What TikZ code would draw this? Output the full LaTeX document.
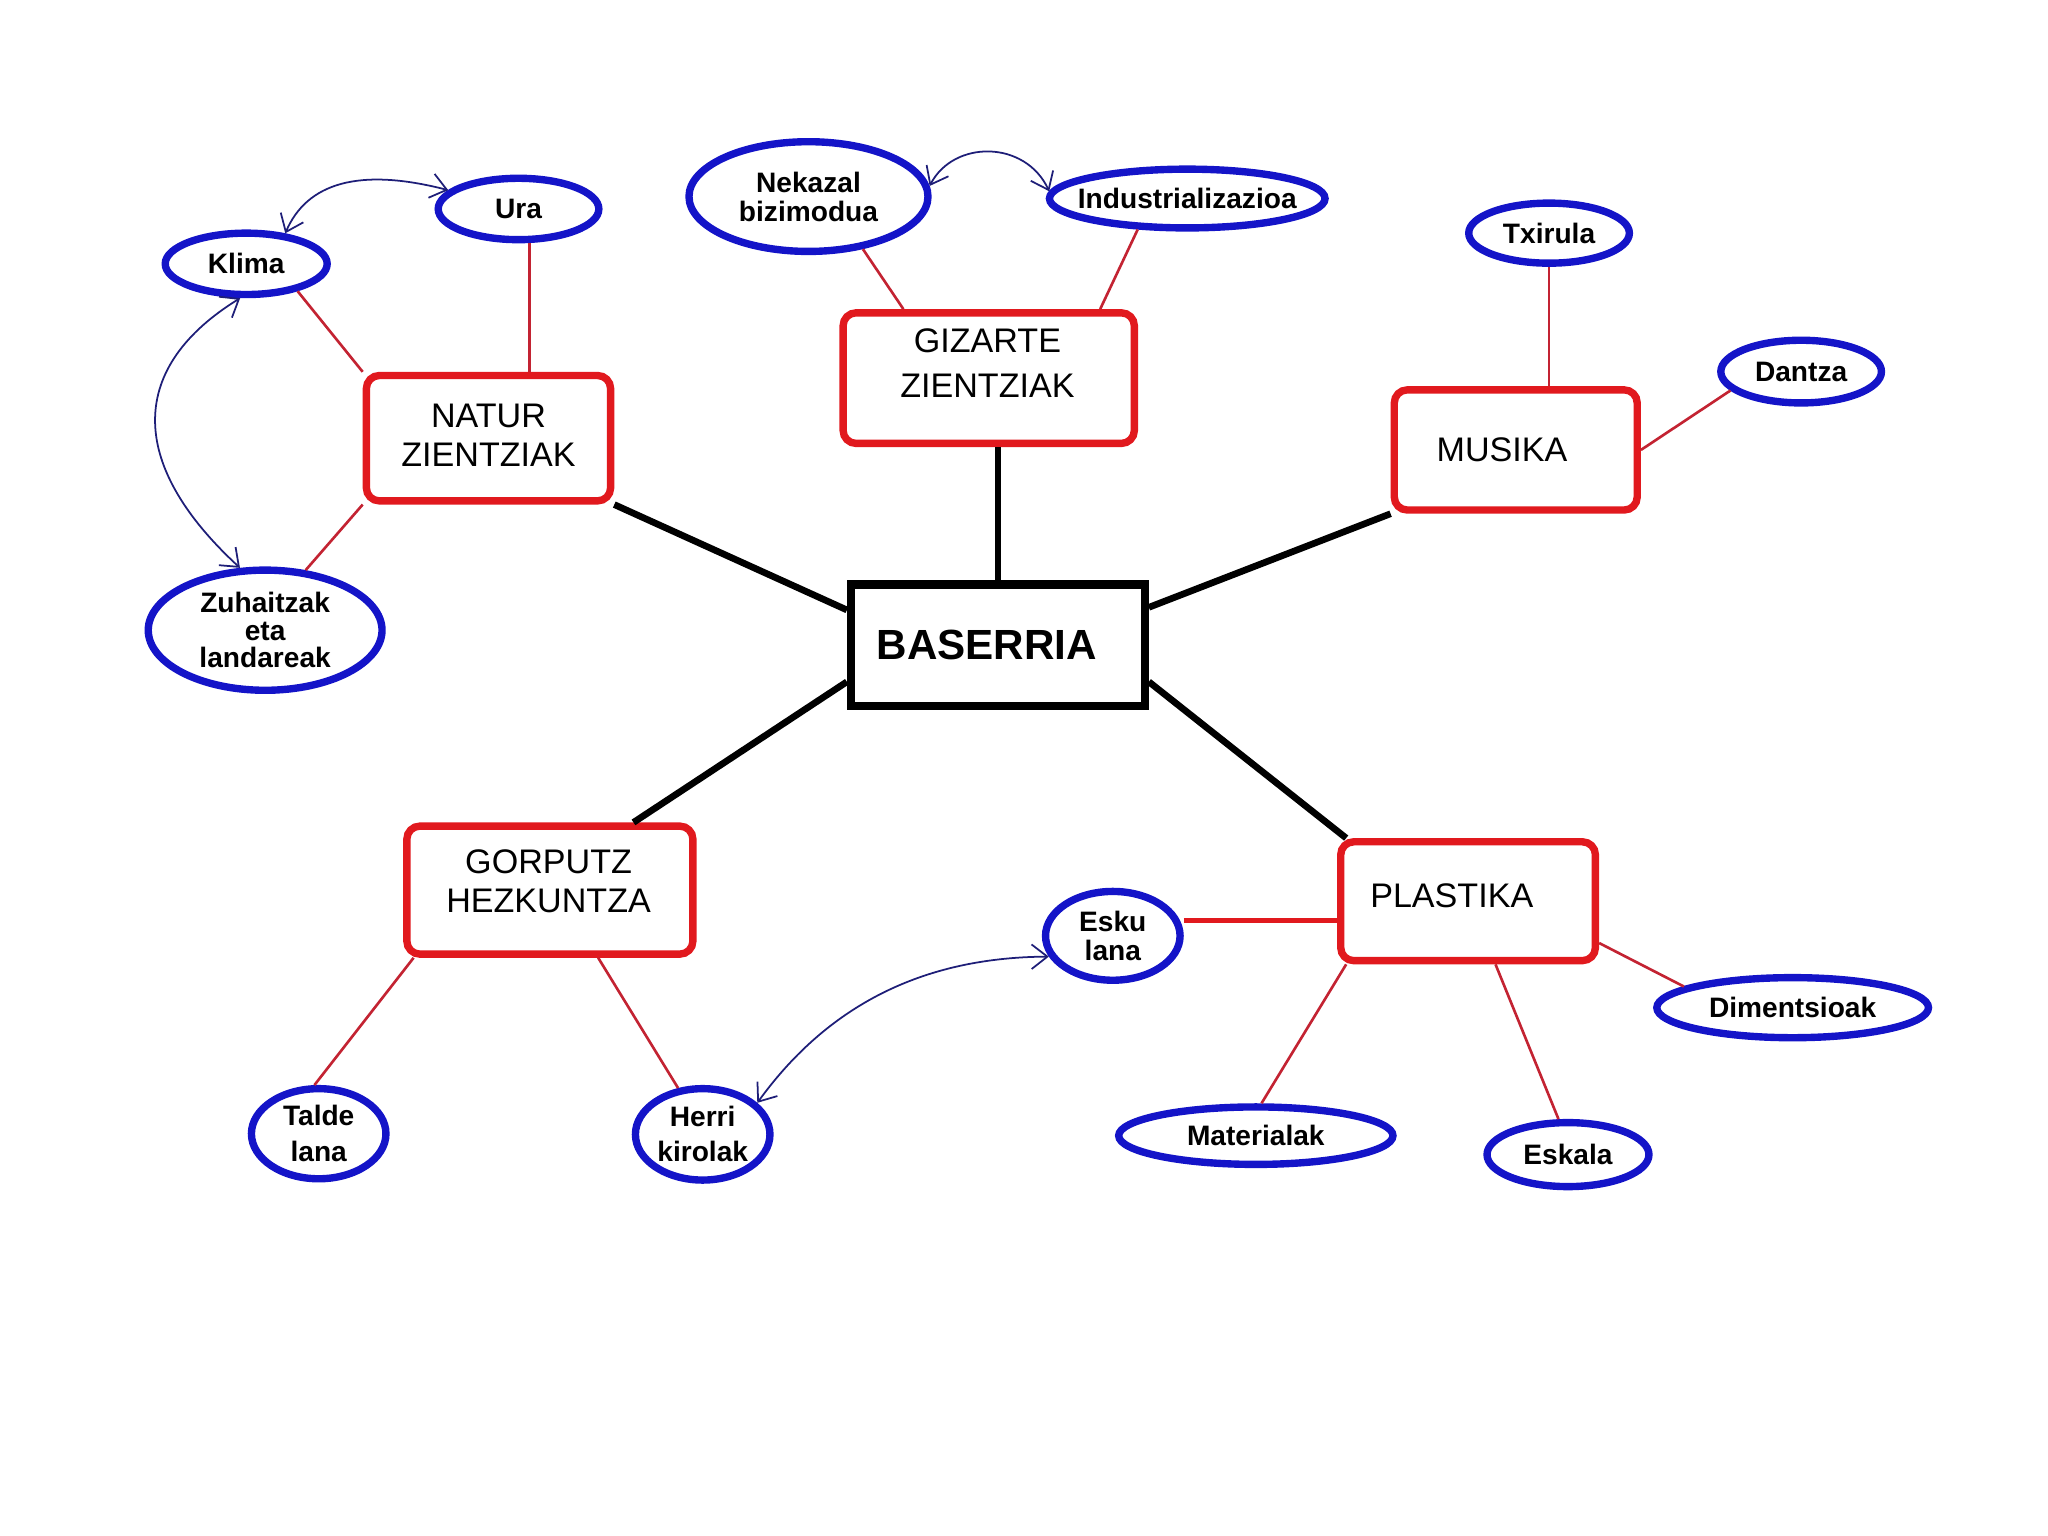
\documentclass[tikz,border=0pt]{standalone}
\usepackage{fontspec}
\setmainfont{Liberation Sans}
\usetikzlibrary{shapes.geometric,arrows.meta}
\newdimen\pxu \pxu=0.0130612cm
\definecolor{ellblue}{RGB}{20,20,200}
\definecolor{boxred}{RGB}{225,25,30}
\definecolor{linkred}{RGB}{195,35,50}
\definecolor{arrnavy}{RGB}{30,30,120}
\tikzset{
  ell/.style={ellipse, draw=ellblue, line width=2.1pt, inner sep=0pt, fill=white,
    font=\fontsize{8}{8.2}\selectfont\bfseries, align=center, text=black},
  topic/.style={draw=boxred, line width=2.1pt, rounded corners=3.7pt, fill=white, inner sep=0pt},
  ttext/.style={font=\fontsize{9.7}{11.1}\selectfont, align=center, inner sep=0pt, text=black},
  link/.style={draw=linkred, line width=0.75pt},
  trunk/.style={draw=black, line width=1.9pt},
  arr/.style={draw=arrnavy, line width=0.5pt,
    {Straight Barb[length=4.5pt,width=7pt]}-{Straight Barb[length=4.5pt,width=7pt]}}
}
\begin{document}
\begin{tikzpicture}[x=0.0130612cm, y=-0.0130612cm]
\useasboundingbox (0,0) rectangle (1568,1176);

% central box
\node[draw=black, line width=2.3pt, fill=white, inner sep=0pt,
      minimum width=225*\pxu, minimum height=93*\pxu] (baserria) at (764,494) {};
\node[inner sep=0pt, font=\fontsize{12}{14}\selectfont\bfseries] (baserria-t) at (755.5,494) {BASERRIA};

% topic boxes
\node[topic, minimum width=187*\pxu, minimum height=96*\pxu] (natur) at (374,335.5) {};
\node[ttext] (natur-t) at (374,333.5) {NATUR\\ZIENTZIAK};
\node[topic, minimum width=223*\pxu, minimum height=100*\pxu] (gizarte) at (757,289.5) {};
\node[ttext, font=\fontsize{9.7}{12.6}\selectfont] (gizarte-t) at (756,278) {GIZARTE\\ZIENTZIAK};
\node[topic, minimum width=186*\pxu, minimum height=92*\pxu] (musika) at (1160.5,344.5) {};
\node[ttext] (musika-t) at (1150,344) {MUSIKA};
\node[topic, minimum width=219*\pxu, minimum height=98*\pxu] (gorputz) at (421,681.5) {};
\node[ttext] (gorputz-t) at (420,675) {GORPUTZ\\HEZKUNTZA};
\node[topic, minimum width=195*\pxu, minimum height=91*\pxu] (plastika) at (1124,690) {};
\node[ttext] (plastika-t) at (1111.5,686) {PLASTIKA};

% ellipses
\node[ell, minimum width=124*\pxu, minimum height=47*\pxu] (klima) at (188.5,202) {Klima};
\node[ell, minimum width=123*\pxu, minimum height=47*\pxu] (ura) at (397,160) {Ura};
\node[ell, minimum width=179*\pxu, minimum height=92*\pxu, font=\fontsize{8}{7.8}\selectfont\bfseries] (zuh) at (203,482.5) {Zuhaitzak\\eta\\landareak};
\node[ell, minimum width=183*\pxu, minimum height=84*\pxu] (nek) at (619,150.5) {Nekazal\\bizimodua};
\node[ell, minimum width=211*\pxu, minimum height=45*\pxu, inner xsep=-14*\pxu] (ind) at (909,152) {Industrializazioa};
\node[ell, minimum width=123*\pxu, minimum height=46*\pxu] (txirula) at (1186,178.5) {Txirula};
\node[ell, minimum width=123*\pxu, minimum height=48*\pxu] (dantza) at (1379,284.5) {Dantza};
\node[ell, minimum width=103*\pxu, minimum height=69*\pxu, font=\fontsize{8}{10.3}\selectfont\bfseries] (talde) at (244,868) {Talde\\lana};
\node[ell, minimum width=103*\pxu, minimum height=70*\pxu, font=\fontsize{8}{10}\selectfont\bfseries] (herri) at (538,868.5) {Herri\\kirolak};
\node[ell, minimum width=103*\pxu, minimum height=68*\pxu] (esku) at (852,716.5) {Esku\\lana};
\node[ell, minimum width=208*\pxu, minimum height=46*\pxu, inner xsep=-6*\pxu] (dim) at (1372.5,771.5) {Dimentsioak};
\node[ell, minimum width=210*\pxu, minimum height=44*\pxu, inner xsep=-6*\pxu] (mat) at (961.5,869.5) {Materialak};
\node[ell, minimum width=124*\pxu, minimum height=49*\pxu] (eskala) at (1200.5,884) {Eskala};

% trunk connectors
\draw[trunk] (natur.south east) -- ([yshift=27*\pxu]baserria.west);
\draw[trunk] (baserria.north) -- (baserria.north |- gizarte.south);
\draw[trunk] ([yshift=29*\pxu]baserria.east) -- (musika.south west);
\draw[trunk] ([yshift=-28*\pxu]baserria.west) -- ([xshift=64*\pxu]gorputz.north);
\draw[trunk] ([yshift=-28*\pxu]baserria.east) -- ([xshift=7*\pxu]plastika.north west);

% thin red links
\draw[link] (klima.-28) -- (natur.north west);
\draw[link] (ura.-72) -- (ura.-72 |- natur.north);
\draw[link] (zuh.56) -- (natur.south west);
\draw[link] (nek.-44) -- ([xshift=49*\pxu]gizarte.north west);
\draw[link] (ind.-148) -- ([xshift=-29*\pxu]gizarte.north east);
\draw[link] (txirula.south) -- (txirula.south |- musika.north);
\draw[link] (dantza.-165) -- (musika.east);
\draw[link] (talde.95) -- ([xshift=8*\pxu]gorputz.south west);
\draw[link] (herri.118) -- ([xshift=37*\pxu]gorputz.south);
\coordinate (pw) at ([yshift=-15*\pxu]plastika.west);
\draw[link, line width=1.5pt, draw=boxred] (esku.east |- pw) -- (pw);
\draw[link] (mat.80) -- ([xshift=7*\pxu]plastika.south west);
\draw[link] (eskala.105) -- ([xshift=21*\pxu]plastika.south);
\draw[link] (dim.169) -- ([yshift=-32*\pxu]plastika.east);

% curved navy arrows
\draw[arr] (klima.38) .. controls (235,140) and (275,128) .. (ura.165);
\draw[arr] (klima.-100) .. controls (100,280) and (95,353) .. (zuh.112);
\draw[arr] (nek.5) .. controls (730,107) and (785,107) .. (ind.177);
\draw[arr] (herri.30) .. controls (630,775) and (700,733) .. (esku.-162);
\end{tikzpicture}
\end{document}
